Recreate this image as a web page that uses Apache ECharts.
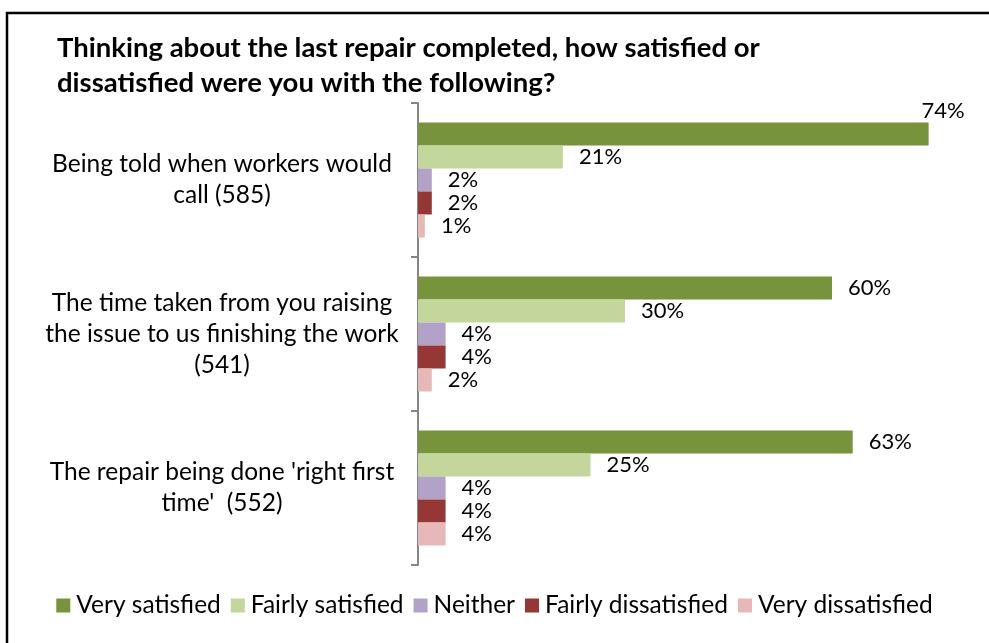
<!DOCTYPE html>
<html>
<head>
<meta charset="utf-8">
<script src="https://cdn.jsdelivr.net/npm/echarts@6/dist/echarts.min.js"></script>
<style>
  html, body { margin: 0; padding: 0; background: #ffffff; }
  #chart { width: 989px; height: 643px; }
</style>
</head>
<body>
<div id="chart"></div>
<script>
// Survey items (response counts in brackets)
const categories = [
  "Being told when workers would\ncall (585)",
  "The time taken from you raising\nthe issue to us finishing the work\n(541)",
  "The repair being done 'right first\ntime'  (552)"
];

// Response options, in the order they are stacked in each group
const seriesNames = [
  "Very satisfied",
  "Fairly satisfied",
  "Neither",
  "Fairly dissatisfied",
  "Very dissatisfied"
];

// Percentages per response option, one value per survey item
const verySatisfied      = [74, 60, 63];
const fairlySatisfied    = [21, 30, 25];
const neither            = [2, 4, 4];
const fairlyDissatisfied = [2, 4, 4];
const veryDissatisfied   = [1, 2, 4];

const seriesValues = [verySatisfied, fairlySatisfied, neither, fairlyDissatisfied, veryDissatisfied];
const seriesColors = ["#77933C", "#C3D69B", "#B3A2C7", "#953735", "#E6B9B8"];

const FONT = "Lato";

const series = seriesNames.map((name, i) => ({
  name: name,
  type: "bar",
  barWidth: 23,
  barGap: "0%",
  itemStyle: { color: seriesColors[i] },
  label: {
    show: true,
    position: "right",
    distance: 16,
    formatter: "{c}%",
    color: "#000000",
    fontFamily: FONT,
    fontSize: 22
  },
  data: seriesValues[i].map((v, j) => {
    // The longest bar has its label lifted above its end
    if (i === 0 && j === 0) {
      return { value: v, label: { offset: [-23, -23] } };
    }
    return v;
  })
}));

const chart = echarts.init(document.getElementById("chart"), null, { renderer: "canvas" });

chart.setOption({
  backgroundColor: "#ffffff",
  animation: false,
  title: {
    text: "Thinking about the last repair completed, how satisfied or\ndissatisfied were you with the following?",
    left: 52,
    top: 26,
    textStyle: {
      fontFamily: FONT,
      fontWeight: "bold",
      fontSize: 27.5,
      lineHeight: 35,
      color: "#000000"
    }
  },
  legend: {
    data: seriesNames,
    left: "center",
    top: 588,
    icon: "rect",
    itemWidth: 14,
    itemHeight: 14,
    itemGap: 10,
    textStyle: {
      fontFamily: FONT,
      fontSize: 24.5,
      color: "#000000",
      padding: [0, 0, 0, 1]
    }
  },
  grid: {
    left: 418,
    top: 103,
    width: 552,
    height: 462,
    containLabel: false
  },
  xAxis: {
    type: "value",
    min: 0,
    max: 80,
    show: false
  },
  yAxis: {
    type: "category",
    inverse: true,
    data: categories,
    axisLine: { show: true, lineStyle: { color: "#868686", width: 2 } },
    axisTick: { show: true, length: 7, inside: false, alignWithLabel: false, lineStyle: { color: "#868686", width: 2 } },
    axisLabel: {
      align: "center",
      margin: 196,
      fontFamily: FONT,
      fontSize: 24.5,
      lineHeight: 31,
      color: "#000000"
    },
    splitLine: { show: false }
  },
  graphic: [
    {
      type: "polyline",
      shape: { points: [[7, 660], [7, 13], [1000, 13]] },
      style: { stroke: "#000000", lineWidth: 2.5, fill: null }
    }
  ],
  series: series
});
</script>
</body>
</html>
